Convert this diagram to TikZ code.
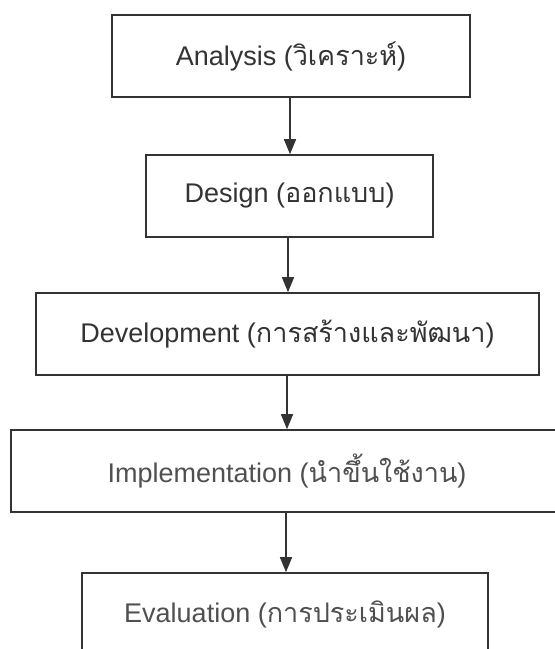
\documentclass[tikz,border=0pt]{standalone}
\usepackage{fontspec}
\setmainfont{Liberation Sans}
\newfontfamily\thai[Script=Thai]{Loma}
\usetikzlibrary{arrows.meta}
\definecolor{ink}{HTML}{333333}
\definecolor{inklight}{HTML}{505050}
\tikzset{
  stagebox/.style={draw=ink, line width=1.6pt, rectangle, minimum height=82pt,
    inner sep=0pt, text=ink, font=\fontsize{27}{31}\selectfont},
  arr/.style={draw=ink, line width=1.4pt, -{Triangle[length=15pt,width=12pt]}}
}
\begin{document}
\begin{tikzpicture}[x=1pt,y=-1pt]
\useasboundingbox (0,0) rectangle (555,649);
\clip (0,0) rectangle (555,649);
\fill[white] (0,0) rectangle (555,649);
\node[stagebox, minimum width=358pt] (A) at (291,56) {Analysis ({\thai วิเคราะห์})};
\node[stagebox, minimum width=287pt] (D) at (289.5,196) {Design ({\thai ออกแบบ})};
\node[stagebox, minimum width=503pt] (V) at (287.5,334) {Development ({\thai การสร้างและพัฒนา})};
\node[stagebox, minimum width=552pt, text=inklight] (I) at (287,471) {Implementation ({\thai นำขึ้นใช้งาน})};
\node[stagebox, minimum width=406pt, text=inklight] (E) at (285,614) {Evaluation ({\thai การประเมินผล})};
\draw[arr] (A.south -| 290,0) -- (D.north -| 290,0);
\draw[arr] (D.south -| 288,0) -- (V.north -| 288,0);
\draw[arr] (V.south -| 287,0) -- (I.north -| 287,0);
\draw[arr] (I.south -| 286,0) -- (E.north -| 286,0);
\end{tikzpicture}
\end{document}
